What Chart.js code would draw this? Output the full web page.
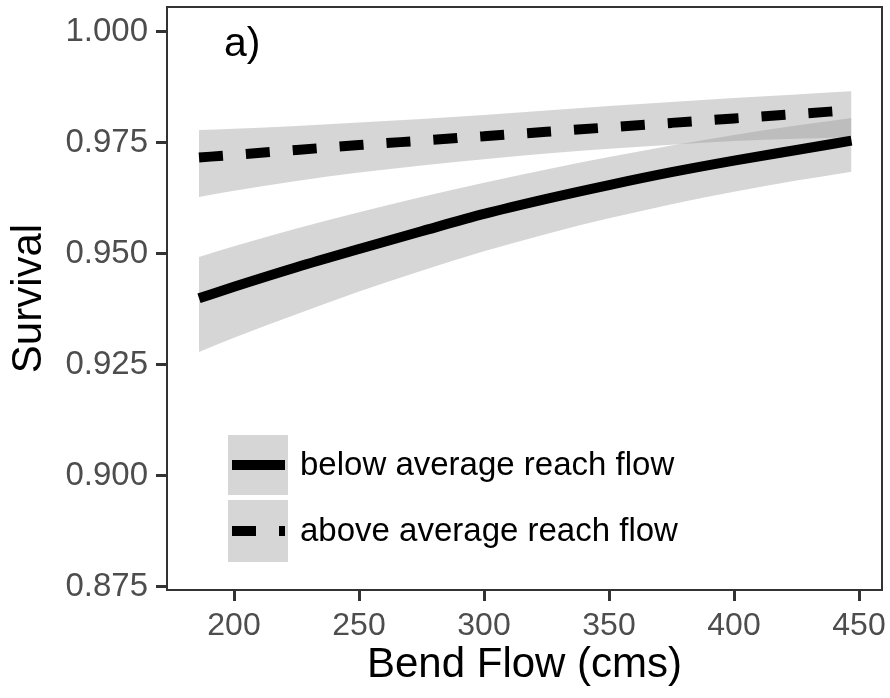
<!DOCTYPE html>
<html>
<head>
<meta charset="utf-8">
<script src="https://cdn.jsdelivr.net/npm/chart.js@4/dist/chart.umd.min.js"></script>
<style>
html,body{margin:0;padding:0;background:#fff;}
#wrap{width:890px;height:698px;}
</style>
</head>
<body>
<div id="wrap"><canvas id="c" width="890" height="698"></canvas></div>
<script>
// ---- data ----
const flow      = [186, 200, 225, 250, 275, 300, 325, 350, 375, 400, 425, 447];
const belowFit  = [0.9400, 0.9426, 0.9470, 0.9511, 0.9551, 0.9590, 0.9624, 0.9655, 0.9684, 0.9710, 0.9734, 0.9755];
const belowHi   = [0.9493, 0.9517, 0.9557, 0.9594, 0.9628, 0.9660, 0.9690, 0.9718, 0.9744, 0.9768, 0.9789, 0.9806];
const belowLo   = [0.9279, 0.9311, 0.9364, 0.9415, 0.9462, 0.9506, 0.9545, 0.9580, 0.9612, 0.9640, 0.9665, 0.9685];
const aboveFit  = [0.9717, 0.9723, 0.9734, 0.9745, 0.9755, 0.9765, 0.9775, 0.9785, 0.9795, 0.9805, 0.9815, 0.9824];
const aboveHi   = [0.9779, 0.9782, 0.9788, 0.9796, 0.9804, 0.9813, 0.9823, 0.9833, 0.9842, 0.9851, 0.9859, 0.9866];
const aboveLo   = [0.9628, 0.9642, 0.9664, 0.9683, 0.9699, 0.9713, 0.9726, 0.9737, 0.9746, 0.9754, 0.9759, 0.9763];
const seriesLabels = ["below average reach flow", "above average reach flow"];
const xTicks = [200, 250, 300, 350, 400, 450];
const yTicks = [0.875, 0.900, 0.925, 0.950, 0.975, 1.000];
const panelLabel = "a)";
const xTitle = "Bend Flow (cms)";
const yTitle = "Survival";

const pts = (ys) => flow.map((x, i) => ({x: x, y: ys[i]}));
const BAND = 'rgba(153,153,153,0.4)';
const LW = 10;
const DASH = [24, 23];
const FONT = '"Liberation Sans", Arial, sans-serif';

const bandDs = (ys, fill) => ({
  data: pts(ys), borderWidth: 0, pointRadius: 0, fill: fill,
  backgroundColor: BAND, borderColor: 'rgba(0,0,0,0)', cubicInterpolationMode: 'monotone'
});

const panelPlugin = {
  id: 'panel',
  afterDatasetsDraw(chart) {
    const ctx = chart.ctx, a = chart.chartArea;
    ctx.save();
    ctx.strokeStyle = '#333333';
    ctx.lineWidth = 2;
    ctx.strokeRect(a.left, a.top, a.right - a.left, a.bottom - a.top);
    ctx.fillStyle = '#000';
    ctx.font = '41px ' + FONT;
    ctx.textBaseline = 'alphabetic';
    ctx.textAlign = 'left';
    ctx.fillText(panelLabel, 224, 56);
    const keys = [{y: 435, h: 60, dash: []}, {y: 500, h: 62, dash: DASH}];
    keys.forEach((k, i) => {
      ctx.fillStyle = BAND;
      ctx.fillRect(228, k.y, 60, k.h);
      ctx.strokeStyle = '#000';
      ctx.lineWidth = LW;
      ctx.lineCap = 'butt';
      ctx.setLineDash(k.dash);
      const cy = k.y + k.h / 2;
      ctx.beginPath();
      ctx.moveTo(232, cy);
      ctx.lineTo(285, cy);
      ctx.stroke();
      ctx.setLineDash([]);
      ctx.fillStyle = '#000';
      ctx.font = '33px ' + FONT;
      ctx.textBaseline = 'middle';
      ctx.fillText(seriesLabels[i], 300, cy + 1);
    });
    ctx.restore();
  }
};

new Chart(document.getElementById('c'), {
  type: 'line',
  data: {
    datasets: [
      bandDs(belowHi, '+1'),
      bandDs(belowLo, false),
      bandDs(aboveHi, '+1'),
      bandDs(aboveLo, false),
      { label: seriesLabels[0], data: pts(belowFit), borderColor: '#000', borderWidth: LW,
        pointRadius: 0, fill: false, cubicInterpolationMode: 'monotone', borderCapStyle: 'butt' },
      { label: seriesLabels[1], data: pts(aboveFit), borderColor: '#000', borderWidth: LW,
        borderDash: DASH, pointRadius: 0, fill: false, cubicInterpolationMode: 'monotone', borderCapStyle: 'butt' }
    ]
  },
  plugins: [panelPlugin],
  options: {
    responsive: false,
    animation: false,
    devicePixelRatio: 1,
    layout: { padding: { top: 7, right: 8, left: 0, bottom: 0 } },
    plugins: {
      legend: { display: false },
      tooltip: { enabled: false },
      filler: { drawTime: 'beforeDatasetsDraw' }
    },
    scales: {
      x: {
        type: 'linear', min: 173.2, max: 459.2,
        afterFit: (s) => { s.height = 108; s.paddingLeft = 0; s.paddingRight = 0; },
        afterBuildTicks: (s) => { s.ticks = xTicks.map(v => ({value: v})); },
        grid: { drawOnChartArea: false, color: '#333333', tickLength: 11, tickWidth: 3 },
        border: { display: true, color: '#333333', width: 2 },
        ticks: { color: '#4d4d4d', padding: 6, maxRotation: 0,
                 font: { family: FONT, size: 32 },
                 callback: (v) => String(v) },
        title: { display: true, text: xTitle, color: '#000',
                 font: { family: FONT, size: 42 },
                 padding: { top: 0, bottom: 7 } }
      },
      y: {
        type: 'linear', min: 0.8743, max: 1.0056,
        afterFit: (s) => { s.width = 167; s.paddingTop = 0; s.paddingBottom = 0; },
        afterBuildTicks: (s) => { s.ticks = yTicks.map(v => ({value: v})); },
        grid: { drawOnChartArea: false, color: '#333333', tickLength: 11, tickWidth: 3 },
        border: { display: true, color: '#333333', width: 2 },
        ticks: { color: '#4d4d4d', padding: 8,
                 font: { family: FONT, size: 33 },
                 callback: (v) => Number(v).toFixed(3) },
        title: { display: true, text: yTitle, color: '#000',
                 font: { family: FONT, size: 42 },
                 padding: { top: 4, bottom: 0 } }
      }
    }
  }
});
</script>
</body>
</html>
